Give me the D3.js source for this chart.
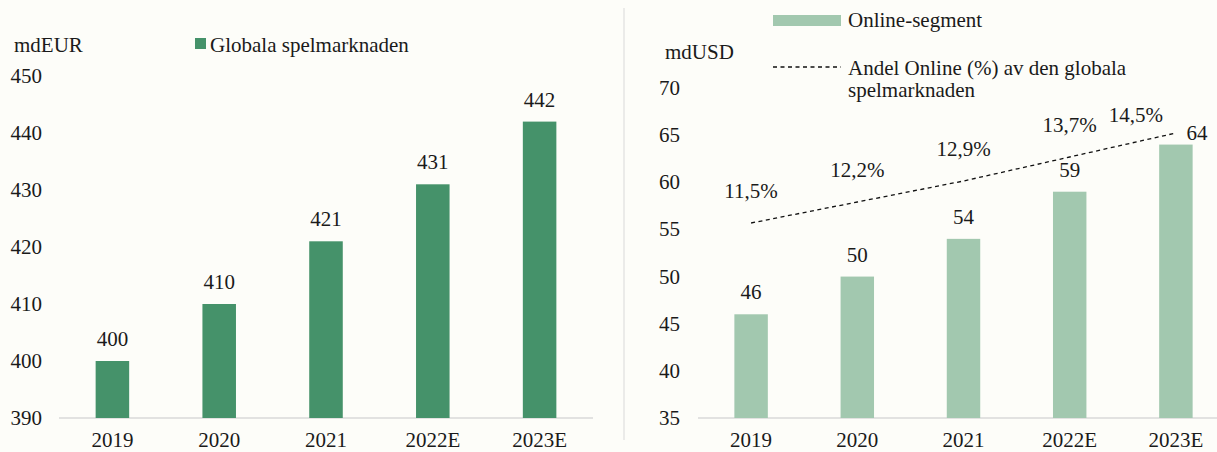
<!DOCTYPE html>
<html>
<head>
<meta charset="utf-8">
<script src="https://cdn.jsdelivr.net/npm/d3@7"></script>
<style>
  body { margin: 0; background: #fdfdf9; }
  svg { display: block; }
</style>
</head>
<body>
<div id="chart"></div>
<script>
var years = ["2019", "2020", "2021", "2022E", "2023E"];
var globalMarket = [400, 410, 421, 431, 442];
var onlineSegment = [46, 50, 54, 59, 64];
var onlineShare = [11.5, 12.2, 12.9, 13.7, 14.5];
var leftTicks = [390, 400, 410, 420, 430, 440, 450];
var rightTicks = [35, 40, 45, 50, 55, 60, 65, 70];

var width = 1217;
var height = 452;

var svg = d3.select("#chart")
    .append("svg")
    .attr("width", width)
    .attr("height", height)
    .style("font-family", "'Liberation Serif', Tinos, 'DejaVu Serif', serif");

svg.append("rect")
    .attr("width", width)
    .attr("height", height)
    .attr("fill", "#fdfdf9");

var fontSize = 21;
var ink = "#1a1a1a";

// ---------- left panel ----------
var x1 = d3.scaleBand()
    .domain(years)
    .range([59, 593])
    .paddingInner(0.686)
    .paddingOuter(0.343);

var y1 = d3.scaleLinear()
    .domain([390, 450])
    .range([418, 76]);

svg.append("line")
    .attr("x1", 59).attr("x2", 593)
    .attr("y1", y1(390)).attr("y2", y1(390))
    .attr("stroke", "#d9d9d9")
    .attr("stroke-width", 1.5);

svg.append("g")
    .selectAll("text")
    .data(leftTicks)
    .join("text")
    .attr("x", 42)
    .attr("y", d => y1(d) + 7)
    .attr("text-anchor", "end")
    .attr("font-size", fontSize)
    .attr("fill", ink)
    .text(d => d);

svg.append("g")
    .selectAll("rect")
    .data(globalMarket)
    .join("rect")
    .attr("x", (d, i) => x1(years[i]))
    .attr("y", d => y1(d))
    .attr("width", x1.bandwidth())
    .attr("height", d => y1(390) - y1(d))
    .attr("fill", "#45926a");

svg.append("g")
    .selectAll("text")
    .data(globalMarket)
    .join("text")
    .attr("x", (d, i) => x1(years[i]) + x1.bandwidth() / 2)
    .attr("y", d => y1(d) - 15)
    .attr("text-anchor", "middle")
    .attr("font-size", fontSize)
    .attr("fill", ink)
    .text(d => d);

svg.append("g")
    .selectAll("text")
    .data(years)
    .join("text")
    .attr("x", d => x1(d) + x1.bandwidth() / 2)
    .attr("y", 447)
    .attr("text-anchor", "middle")
    .attr("font-size", fontSize)
    .attr("fill", ink)
    .text(d => d);

svg.append("text")
    .attr("x", 14)
    .attr("y", 52)
    .attr("font-size", fontSize)
    .attr("fill", ink)
    .text("mdEUR");

svg.append("rect")
    .attr("x", 195).attr("y", 38)
    .attr("width", 11).attr("height", 11)
    .attr("fill", "#45926a");

svg.append("text")
    .attr("x", 210)
    .attr("y", 52)
    .attr("font-size", fontSize)
    .attr("fill", ink)
    .text("Globala spelmarknaden");

// divider
svg.append("line")
    .attr("x1", 624).attr("x2", 624)
    .attr("y1", 8).attr("y2", 440)
    .attr("stroke", "#d9d9d9")
    .attr("stroke-width", 1);

// ---------- right panel ----------
var x2 = d3.scaleBand()
    .domain(years)
    .range([698, 1229])
    .paddingInner(0.685)
    .paddingOuter(0.3425);

var y2 = d3.scaleLinear()
    .domain([35, 70])
    .range([418, 88]);

// hidden secondary axis for the share line
var y3 = d3.scaleLinear()
    .domain([5, 16])
    .range([418, 88]);

svg.append("line")
    .attr("x1", 698).attr("x2", 1229)
    .attr("y1", y2(35)).attr("y2", y2(35))
    .attr("stroke", "#d9d9d9")
    .attr("stroke-width", 1.5);

svg.append("g")
    .selectAll("text")
    .data(rightTicks)
    .join("text")
    .attr("x", 680)
    .attr("y", d => y2(d) + 7)
    .attr("text-anchor", "end")
    .attr("font-size", fontSize)
    .attr("fill", ink)
    .text(d => d);

svg.append("g")
    .selectAll("rect")
    .data(onlineSegment)
    .join("rect")
    .attr("x", (d, i) => x2(years[i]))
    .attr("y", d => y2(d))
    .attr("width", x2.bandwidth())
    .attr("height", d => y2(35) - y2(d))
    .attr("fill", "#a2c8af");

// last label is nudged right so it clears the line
svg.append("g")
    .selectAll("text")
    .data(onlineSegment)
    .join("text")
    .attr("x", (d, i) => x2(years[i]) + x2.bandwidth() / 2 + (i === years.length - 1 ? 21 : 0))
    .attr("y", (d, i) => y2(d) - (i === years.length - 1 ? 5 : 15))
    .attr("text-anchor", "middle")
    .attr("font-size", fontSize)
    .attr("fill", ink)
    .text(d => d);

svg.append("path")
    .datum(onlineShare)
    .attr("fill", "none")
    .attr("stroke", "#111")
    .attr("stroke-width", 1.3)
    .attr("stroke-dasharray", "4,3.5")
    .attr("d", d3.line()
        .x((d, i) => x2(years[i]) + x2.bandwidth() / 2)
        .y(d => y3(d)));

svg.append("g")
    .selectAll("text")
    .data(onlineShare)
    .join("text")
    .attr("x", (d, i) => x2(years[i]) + x2.bandwidth() / 2 + (i === years.length - 1 ? -40 : 0))
    .attr("y", (d, i) => y3(d) - (i === years.length - 1 ? 11 : 25))
    .attr("text-anchor", "middle")
    .attr("font-size", fontSize)
    .attr("fill", ink)
    .text(d => d3.format(".1f")(d).replace(".", ",") + "%");

svg.append("g")
    .selectAll("text")
    .data(years)
    .join("text")
    .attr("x", d => x2(d) + x2.bandwidth() / 2)
    .attr("y", 447)
    .attr("text-anchor", "middle")
    .attr("font-size", fontSize)
    .attr("fill", ink)
    .text(d => d);

svg.append("text")
    .attr("x", 665)
    .attr("y", 59)
    .attr("font-size", fontSize)
    .attr("fill", ink)
    .text("mdUSD");

svg.append("rect")
    .attr("x", 773).attr("y", 15)
    .attr("width", 68).attr("height", 11)
    .attr("fill", "#a2c8af");

svg.append("text")
    .attr("x", 848)
    .attr("y", 27)
    .attr("font-size", fontSize)
    .attr("fill", ink)
    .text("Online-segment");

svg.append("line")
    .attr("x1", 773).attr("x2", 841)
    .attr("y1", 67).attr("y2", 67)
    .attr("stroke", "#111")
    .attr("stroke-width", 1.3)
    .attr("stroke-dasharray", "4,3.5");

svg.append("text")
    .attr("x", 848)
    .attr("y", 75)
    .attr("font-size", fontSize)
    .attr("fill", ink)
    .text("Andel Online (%) av den globala");

svg.append("text")
    .attr("x", 848)
    .attr("y", 97)
    .attr("font-size", fontSize)
    .attr("fill", ink)
    .text("spelmarknaden");
</script>
</body>
</html>
